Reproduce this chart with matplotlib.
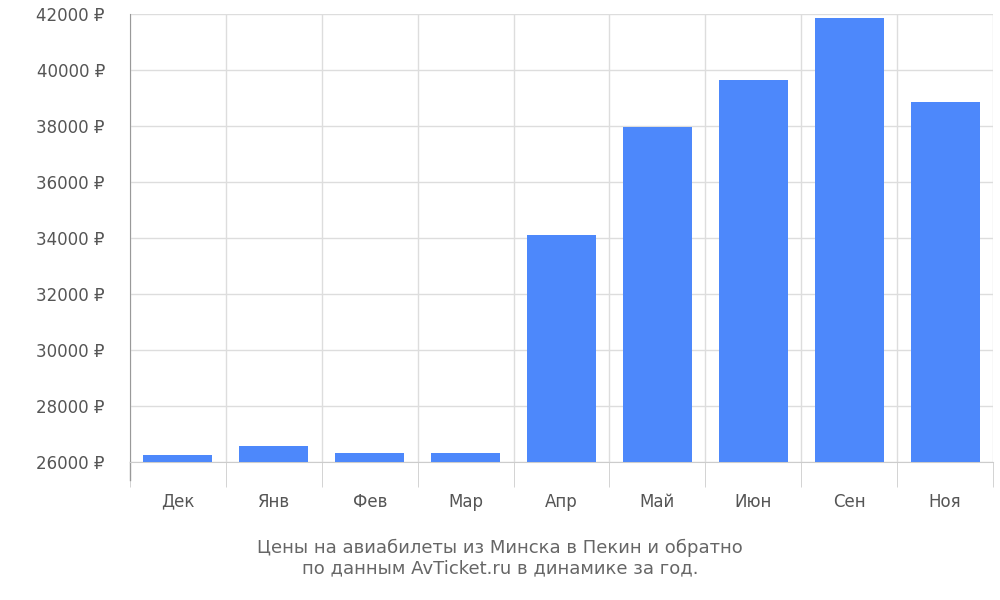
import matplotlib
matplotlib.use("Agg")
import matplotlib.pyplot as plt
import numpy as np

months = ["Дек", "Янв", "Фев", "Мар", "Апр", "Май", "Июн", "Сен", "Ноя"]
prices = [26250, 26570, 26320, 26320, 34110, 37960, 39640, 41860, 38860]
yticks = list(range(26000, 42001, 2000))

fig = plt.figure(figsize=(10, 6), dpi=100)
ax = fig.add_axes([0.13, 0.23, 0.863, 0.747])
x = np.arange(len(months))
ax.bar(x, [p - 26000 for p in prices], bottom=26000, width=0.72, color="#4d88fb", zorder=3)
ax.set_xlim(-0.5, len(months) - 0.5)
ax.set_ylim(26000, 42000)
ax.set_yticks(yticks)
ax.set_yticklabels([f"{v} ₽" for v in yticks])
ax.set_xticks(x)
ax.set_xticklabels(months)
ax.set_xticks(np.arange(len(months) + 1) - 0.5, minor=True)
ax.tick_params(axis="x", which="major", length=0, pad=22, labelsize=12, labelcolor="#555555")
ax.tick_params(axis="x", which="minor", length=18, color="#cccccc")
ax.tick_params(axis="y", length=0, pad=18, labelsize=12, labelcolor="#555555")
ax.grid(True, which="minor", axis="x", color="#dddddd", lw=1, zorder=0)
ax.grid(True, which="major", axis="y", color="#dddddd", lw=1, zorder=0)
for s in ["top", "right"]:
    ax.spines[s].set_visible(False)
ax.spines["bottom"].set_color("#cccccc")
ax.spines["left"].set_color("#999999")
ax.spines["left"].set_bounds(26000, 42000)
ax.plot([-0.5, -0.5], [0, -0.04], transform=ax.get_xaxis_transform(), color="#999999", lw=1, clip_on=False)
fig.text(0.5, 0.07, "Цены на авиабилеты из Минска в Пекин и обратно\nпо данным AvTicket.ru в динамике за год.",
         ha="center", va="center", fontsize=13, color="#666666", linespacing=1.2)
fig.savefig("out.png")
